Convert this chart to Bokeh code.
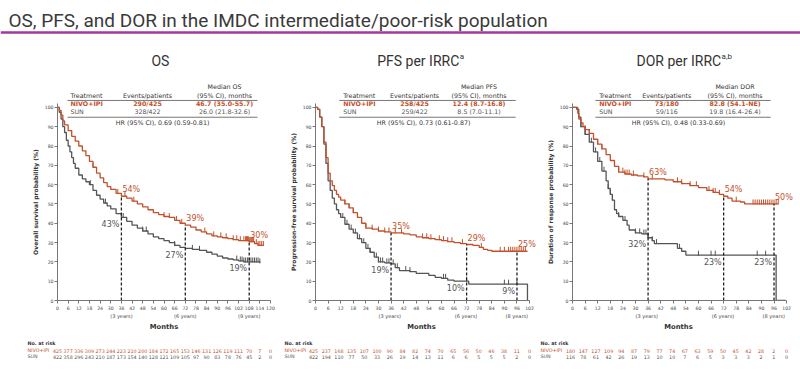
import numpy as np
from bokeh.plotting import figure
from bokeh.layouts import column, row
from bokeh.models import Range1d, FixedTicker, Label
from bokeh.core.properties import value
from bokeh.embed import file_html
from bokeh.resources import INLINE

RED = "#c4502b"
GRAY = "#555555"
DARK = "#333333"
FONT = "DejaVu Sans"
TFONT = "Roboto"

main_title = "OS, PFS, and DOR in the IMDC intermediate/poor-risk population"

# ---------------- OS ----------------
os_title = "OS"
os_sup = ""
os_ylabel = "Overall survival probability (%)"
os_ticks = list(range(0, 121, 6))
os_nivo_t = [0, 1, 2, 3, 4, 6, 8, 10, 12, 14, 16, 18, 20, 22, 24, 26, 28, 30, 33, 36, 39, 42, 45, 48, 51, 54, 57,
             60, 63, 66, 69, 72, 75, 78, 81, 84, 87, 90, 93, 96, 99, 102, 105, 108, 111, 113, 116]
os_nivo_s = [100, 98.5, 96, 93, 91, 88, 85, 82.5, 80, 77.5, 75, 72, 69, 66, 63.5, 61, 59, 57.5, 55.5, 54, 53, 51.5,
             50, 48.5, 47, 45.5, 44.5, 43.5, 43, 41.5, 40, 39, 38, 36.5, 35.5, 34.5, 33.5, 33, 32.5, 32, 31.5, 31, 31,
             30.5, 29.5, 28.5, 28.5]
os_sun_t = [0, 1, 2, 3, 4, 5, 6, 7, 8, 9, 10, 12, 14, 16, 18, 20, 22, 24, 26, 28, 30, 33, 36, 39, 42, 45, 48, 51, 54,
            57, 60, 63, 66, 69, 72, 76, 80, 84, 87, 90, 93, 96, 99, 102, 105, 108, 114]
os_sun_s = [100, 97.5, 94, 90, 87, 83, 80, 77, 74, 71, 68.5, 65, 63, 61.5, 60, 57, 54.5, 52.5, 50.5, 49, 47.5, 45, 43,
            41, 39, 37.5, 36, 34.5, 33, 32, 31, 30, 28.5, 27.5, 27, 26.5, 26, 25, 24, 23, 22, 21.5, 21, 20.5, 20, 20,
            19.5]
os_nivo_cens = [20, 34, 38, 43, 60, 63, 67, 70, 83, 88, 92, 95, 99, 101, 103, 105, 106, 106.5, 107, 107.5, 108, 108.5,
                109, 109.5, 110, 110.5, 112, 113, 114, 115, 116]
os_sun_cens = [18.5, 27, 37, 48, 50, 66, 76, 80, 101, 103, 104, 105, 106, 107, 108, 109, 110, 111, 112, 113, 114]
os_landmarks = [36, 72, 108]
os_years = ["(3 years)", "(6 years)", "(9 years)"]
os_nivo_pct = ["54%", "39%", "30%"]
os_sun_pct = ["43%", "27%", "19%"]
os_head = ["Treatment", "Events/patients", "Median OS", "(95% CI), months"]
os_row_nivo = ["NIVO+IPI", "290/425", "46.7 (35.0-55.7)"]
os_row_sun = ["SUN", "328/422", "26.0 (21.8-32.6)"]
os_hr = "HR (95% CI), 0.69 (0.59-0.81)"
os_risk_nivo = [425, 377, 336, 309, 273, 244, 223, 210, 200, 184, 172, 165, 153, 146, 131, 126, 119, 111, 70, 7, 0]
os_risk_sun = [422, 358, 296, 243, 210, 187, 173, 154, 140, 128, 121, 109, 105, 97, 90, 83, 78, 76, 45, 2, 0]

# ---------------- PFS ----------------
pfs_title = "PFS per IRRC"
pfs_sup = "a"
pfs_ylabel = "Progression-free survival probability (%)"
pfs_ticks = list(range(0, 103, 6))
pfs_nivo_t = [0, 1, 2, 3, 4, 5, 6, 7, 8, 9, 10, 11, 12, 14, 16, 18, 20, 22, 24, 27, 30, 33, 36, 40, 42, 45, 48, 51,
              54, 57, 60, 63, 66, 69, 72, 75, 78, 80, 82, 84, 101]
pfs_nivo_s = [100, 99, 95, 90, 82, 74, 66, 62, 59.5, 57, 55, 53.5, 52, 50, 48, 45.5, 43, 40, 37.5, 37, 36, 35.5, 35,
              35, 34.5, 34, 33, 32.5, 32, 31.5, 31, 30.5, 30, 29.5, 29, 28.5, 27.5, 26.5, 26, 25.5, 25.5]
pfs_sun_t = [0, 1, 2, 3, 4, 5, 6, 7, 8, 9, 10, 11, 12, 14, 16, 18, 20, 22, 24, 26, 28, 30, 33, 36, 38, 40, 45, 48, 54,
             57, 60, 63, 66, 72, 73, 101]
pfs_sun_s = [100, 99, 95, 90, 81, 71, 62, 57, 53, 50, 47, 45, 43, 39.5, 37, 35, 32, 30, 27, 25, 22.5, 20, 19.5, 19,
             17, 15.5, 15, 14, 13, 12, 11.5, 10.5, 10, 10, 8.5, 0]
pfs_nivo_cens = [14, 16, 18, 20, 24, 27, 30, 33, 35, 38, 41, 51, 53, 55, 59, 61, 63, 65, 70, 79, 88, 90, 92, 93, 94,
                 95, 96, 97, 98, 99, 100]
pfs_sun_cens = [13, 15, 17, 19, 21, 23, 25, 26, 29, 30, 31, 32, 34, 35, 37, 39, 43, 45, 61, 62, 72, 90, 92, 96]
pfs_landmarks = [36, 72, 96]
pfs_years = ["(3 years)", "(6 years)", "(8 years)"]
pfs_nivo_pct = ["35%", "29%", "25%"]
pfs_sun_pct = ["19%", "10%", "9%"]
pfs_head = ["Treatment", "Events/patients", "Median PFS", "(95% CI), months"]
pfs_row_nivo = ["NIVO+IPI", "258/425", "12.4 (8.7-16.8)"]
pfs_row_sun = ["SUN", "259/422", "8.5 (7.0-11.1)"]
pfs_hr = "HR (95% CI), 0.73 (0.61-0.87)"
pfs_risk_nivo = [425, 237, 168, 135, 107, 100, 90, 84, 82, 74, 70, 65, 56, 50, 46, 38, 11, 0]
pfs_risk_sun = [422, 194, 110, 77, 50, 33, 26, 19, 14, 13, 11, 6, 6, 5, 5, 5, 2, 0]

# ---------------- DOR ----------------
dor_title = "DOR per IRRC"
dor_sup = "a,b"
dor_ylabel = "Duration of response probability (%)"
dor_ticks = list(range(0, 103, 6))
dor_nivo_t = [0, 2.5, 3, 4, 5, 6, 8, 10, 12, 14, 16, 18, 20, 22, 25, 28, 31, 34, 36, 40, 44, 48, 52, 56, 60, 64, 67,
              70, 72, 74, 76, 80, 82, 98]
dor_nivo_s = [100, 97, 94, 92, 90, 88.5, 86.5, 83.5, 81, 78.5, 75.5, 72.5, 69.5, 66.5, 65.5, 65, 64.5, 64, 63, 63,
              62.5, 61.5, 60.5, 59.5, 58.5, 57, 56, 55, 54, 53, 51.5, 51, 50, 50]
dor_sun_t = [0, 2, 3, 4, 6, 8, 10, 12, 14, 16, 17, 18, 19, 20, 21, 22, 24, 26, 27, 30, 33, 36, 38, 39, 50, 52, 54, 97,
             101.5]
dor_sun_s = [100, 99, 95, 90, 86, 82, 77, 72, 67, 62, 58, 55, 52, 47, 45, 43.5, 41.5, 39, 36.5, 35, 34.5, 32.5, 31,
             29.5, 27, 25.5, 23.5, 0, 0]
dor_nivo_cens = [6, 8, 10, 12, 14, 20, 22, 24, 25, 26, 27, 29, 34, 38, 50, 52, 56, 59, 65, 67, 68, 70, 78, 86, 87, 88,
                 89, 90, 91, 92, 93, 94, 95, 96, 97, 98]
dor_sun_cens = [4, 6, 9, 11, 13, 15, 17, 18, 19, 22, 25, 30, 32, 34, 35, 36, 38, 40, 51, 60, 66, 68, 88, 92]
dor_landmarks = [36, 72, 96]
dor_years = ["(3 years)", "(6 years)", "(8 years)"]
dor_nivo_pct = ["63%", "54%", "50%"]
dor_sun_pct = ["32%", "23%", "23%"]
dor_head = ["Treatment", "Events/patients", "Median DOR", "(95% CI), months"]
dor_row_nivo = ["NIVO+IPI", "73/180", "82.8 (54.1-NE)"]
dor_row_sun = ["SUN", "59/116", "19.8 (16.4-26.4)"]
dor_hr = "HR (95% CI), 0.48 (0.33-0.69)"
dor_risk_nivo = [180, 147, 127, 109, 94, 87, 79, 77, 74, 67, 63, 59, 50, 45, 42, 28, 2, 0]
dor_risk_sun = [116, 78, 61, 42, 26, 19, 13, 10, 10, 7, 6, 5, 3, 3, 3, 2, 1, 0]

# vertical scale: px per % unit
PXY = 1.931
FRAME_H = 250
TOP_B = 2
BOT_B = 12
MAIN_H = TOP_B + FRAME_H + BOT_B
BOTTOM_H = 53


def at(t, s, m):
    i = int(np.searchsorted(np.asarray(t, dtype=float), m, side="right")) - 1
    return s[max(i, 0)]


def lab(p, x, y, text, size="7px", color=DARK, align="center", baseline="middle", bold=False, font=FONT):
    p.add_layout(Label(x=x, y=y, text=text, text_font=font, text_font_size=size, text_color=color,
                       text_align=align, text_baseline=baseline,
                       text_font_style="bold" if bold else "normal"))


def gtext(p, xs, ys, texts, rng, size, color=DARK, align="center", bold=False):
    p.text(x=list(xs), y=list(ys), text=list(texts), x_range_name=rng, text_font=value(FONT),
           text_font_size=value(size), text_color=color, text_align=align, text_baseline="middle",
           text_font_style="bold" if bold else "normal")


def bare(p):
    p.grid.visible = False
    p.outline_line_color = None
    return p


def blank(w, h, xr, yr, **kw):
    return bare(figure(width=w, height=h, x_range=xr, y_range=yr, output_backend="svg", toolbar_location=None,
                       title=None, x_axis_type=None, y_axis_type=None, min_border=0, min_border_left=0,
                       min_border_right=0, min_border_top=0, min_border_bottom=0, **kw))


def make_strip(d, lay):
    # narrow figure holding the rotated y-axis title, centred on the 0-102 % span
    s = bare(figure(width=lay["sw"], height=MAIN_H, x_range=Range1d(0, lay["sw"]),
                    y_range=Range1d(0, FRAME_H / PXY), output_backend="svg", toolbar_location=None, title=None,
                    x_axis_type=None, y_axis_type=None, min_border=0, min_border_left=0, min_border_right=0,
                    min_border_top=TOP_B, min_border_bottom=BOT_B))
    s.text(x=[lay["lx"]], y=[51], text=[d["ylabel"]], angle=np.pi / 2, text_font=value(FONT),
           text_font_size=value("6px"), text_font_style="bold", text_color=DARK, text_align="center",
           text_baseline="middle")
    return s


def make_panel(d, lay):
    xmax = lay["xmax"]
    w, left = lay["w"], lay["left"]
    sx = lay["fw"] / xmax
    xend = (w - left) / sx
    p = bare(figure(width=w, height=MAIN_H, x_range=Range1d(0, xend), y_range=Range1d(0, FRAME_H / PXY),
                    output_backend="svg", toolbar_location=None, title=None,
                    min_border_left=left, min_border_right=0, min_border_top=TOP_B, min_border_bottom=BOT_B))
    for ax in (p.xaxis[0], p.yaxis[0]):
        ax.axis_line_color = "#777777"
        ax.major_tick_line_color = "#777777"
        ax.minor_tick_line_color = None
        ax.major_tick_in = 0
        ax.major_tick_out = 3
        ax.major_label_text_font = FONT
        ax.major_label_text_font_size = "4.6px"
        ax.major_label_text_color = "#444444"
        ax.major_label_standoff = 2
    p.yaxis[0].major_label_standoff = 1
    p.xaxis[0].ticker = FixedTicker(ticks=d["ticks"])
    p.xaxis[0].bounds = (0, xmax)
    p.yaxis[0].ticker = FixedTicker(ticks=list(range(0, 101, 10)))
    p.yaxis[0].bounds = (0, 102)

    # curves
    for t, s, cens, col in ((d["sun_t"], d["sun_s"], d["sun_cens"], GRAY),
                            (d["nivo_t"], d["nivo_s"], d["nivo_cens"], RED)):
        p.step(t, s, mode="after", line_color=col, line_width=1.3)
        cy = [at(t, s, m) for m in cens]
        p.segment(x0=cens, y0=[y - 0.3 for y in cy], x1=cens, y1=[y + 2.3 for y in cy], line_color=col,
                  line_width=1)

    # landmarks
    for m, npct, spct in zip(d["land"], d["nivo_pct"], d["sun_pct"]):
        yn = at(d["nivo_t"], d["nivo_s"], m)
        ys = at(d["sun_t"], d["sun_s"], m)
        p.segment(x0=[m], y0=[0], x1=[m], y1=[yn], line_color="#222222", line_width=1.3, line_dash="3 2")
        lab(p, m + 1.0 / sx, yn + 6.5 / PXY, npct, size="8px", color=RED, align="left")
        lab(p, m - 2.0 / sx, ys - 7 / PXY, spct, size="8px", color=GRAY, align="right")

    # panel title
    if d["sup"]:
        lab(p, lay["tx"], 123.8, d["title"], size="14px", font=TFONT, align="right")
        lab(p, lay["tx"] + 0.5 / sx, 126.5, d["sup"], size="8px", font=TFONT, align="left")
    else:
        lab(p, lay["tx"], 123.8, d["title"], size="14px", font=TFONT)

    # table
    c0, c1, c2, l0, l1, chr_ = lay["tab"]
    lab(p, c2, 110.8, d["head"][2], size="6.3px")
    lab(p, c0, 106.2, d["head"][0], size="6.3px", align="left")
    lab(p, c1, 106.2, d["head"][1], size="6.3px")
    lab(p, c2, 106.2, d["head"][3], size="6.3px")
    p.segment(x0=[l0, l0], y0=[103.6, 94.9], x1=[l1, l1], y1=[103.6, 94.9], line_color="#777777", line_width=1)
    for rowv, yy, col in ((d["row_nivo"], 101.9, RED), (d["row_sun"], 97.9, GRAY)):
        lab(p, c0, yy, rowv[0], size="6.3px", color=col, align="left", bold=(col == RED))
        lab(p, c1, yy, rowv[1], size="6.3px", color=col, bold=(col == RED))
        lab(p, c2, yy, rowv[2], size="6.3px", color=col, bold=(col == RED))
    lab(p, chr_, 92.3, d["hr"], size="6.3px")
    return p


def draw_bottom(b, d, lay, rng):
    xmax = lay["xmax"]
    n = len(d["land"])
    gtext(b, d["land"], [3.5] * n, d["years"], rng, "5px", color="#444444")
    gtext(b, [xmax / 2], [14.5], ["Months"], rng, "6.8px", bold=True)
    lx = lay["rx"]
    gtext(b, [lx], [31], ["No. at risk"], rng, "4.8px", align="left", bold=True)
    gtext(b, [lx], [38], ["NIVO+IPI"], rng, "4.8px", color=RED, align="left")
    gtext(b, [lx], [44], ["SUN"], rng, "4.8px", color=GRAY, align="left")
    k = len(d["ticks"])
    gtext(b, d["ticks"], [38] * k, [str(v) for v in d["risk_nivo"]], rng, "4.8px", color=RED)
    gtext(b, d["ticks"], [44] * k, [str(v) for v in d["risk_sun"]], rng, "4.8px", color=GRAY)


def pack(pref):
    g = globals()
    keys = ["title", "sup", "ylabel", "ticks", "nivo_t", "nivo_s", "sun_t", "sun_s", "nivo_cens", "sun_cens"]
    d = {k: g[f"{pref}_{k}"] for k in keys}
    d.update(land=g[f"{pref}_landmarks"], years=g[f"{pref}_years"], nivo_pct=g[f"{pref}_nivo_pct"],
             sun_pct=g[f"{pref}_sun_pct"], head=g[f"{pref}_head"], row_nivo=g[f"{pref}_row_nivo"],
             row_sun=g[f"{pref}_row_sun"], hr=g[f"{pref}_hr"], risk_nivo=g[f"{pref}_risk_nivo"],
             risk_sun=g[f"{pref}_risk_sun"])
    return d


# org: page x of month 0; sw: y-title strip width; lx: y-title centre in strip
lay_os = dict(org=57, sw=40, lx=35, w=235, left=17, fw=213, xmax=120, tx=58, rx=-16.9,
              tab=(7.3, 50.7, 94.1, 5.6, 112.7, 59.2))
lay_pfs = dict(org=313, sw=24, lx=18, w=238, left=14, fw=216, xmax=102, tx=68.5, rx=-13.7,
               tab=(13.2, 47.2, 77.9, 11.3, 95.4, 51.5))
lay_dor = dict(org=570, sw=19, lx=13, w=244, left=14, fw=216, xmax=102, tx=70.8, rx=-14.2,
               tab=(12.7, 44.9, 77.4, 10.9, 94.4, 50.5))

panels = [("os", lay_os), ("pfs", lay_pfs), ("dor", lay_dor)]
children = []
for k, l in panels:
    d = pack(k)
    children.append(make_strip(d, l))
    children.append(make_panel(d, l))

# bottom strip spanning the page, one month-scale per panel
extra = {}
for k, l in panels:
    sx = l["fw"] / l["xmax"]
    extra[k] = Range1d(-l["org"] / sx, (800 - l["org"]) / sx)
bot = blank(800, BOTTOM_H, Range1d(0, 800), Range1d(BOTTOM_H, 0), extra_x_ranges=extra)
for k, l in panels:
    draw_bottom(bot, pack(k), l, k)

# title strip
ft = blank(800, 48, Range1d(0, 800), Range1d(48, 0))
ft.add_layout(Label(x=8, y=20, text=main_title, text_font=TFONT, text_font_size="19px", text_color="#3a3a3a",
                    text_align="left", text_baseline="alphabetic"))
ft.segment(x0=[0], y0=[32], x1=[800], y1=[32], line_color="#a2399f", line_width=2.5)

layout = column(ft, row(*children, spacing=0), bot, spacing=0)
open("out.html", "w").write(file_html(layout, INLINE))
